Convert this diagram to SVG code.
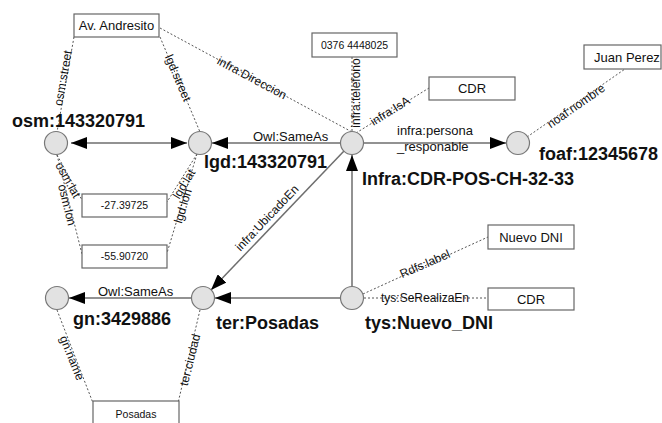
<svg xmlns="http://www.w3.org/2000/svg" width="662" height="423" viewBox="0 0 662 423">
<style>
text{font-family:"Liberation Sans",Arial,sans-serif;fill:#111}
.node{fill:#e2e2e2;stroke:#777;stroke-width:1.2}
.box{fill:#fff;stroke:#666;stroke-width:1.2}
.solid{stroke:#6e6e6e;stroke-width:1.5;fill:none}
.dot{stroke:#555;stroke-width:1;stroke-dasharray:2,2;fill:none}
.big{font-size:18px;font-weight:bold}
.lbl{font-size:13px}
.el{font-size:12px;text-anchor:middle}
.bt{font-size:13px;text-anchor:middle}
.bs{font-size:10.5px;text-anchor:middle}
</style>
<defs>
<marker id="arr" markerUnits="userSpaceOnUse" markerWidth="16" markerHeight="12" refX="16" refY="6" orient="auto-start-reverse">
<path d="M0,0 L16,6 L0,12 z" fill="#000"/>
</marker>
</defs>
<g id="connectors">
<line class="solid" x1="71" y1="143" x2="187" y2="143" marker-start="url(#arr)" marker-end="url(#arr)"/>
<line class="solid" x1="340" y1="143" x2="212" y2="143" marker-end="url(#arr)"/>
<line class="solid" x1="364" y1="143" x2="506" y2="143" marker-end="url(#arr)"/>
<line class="solid" x1="352" y1="287" x2="352" y2="155" marker-end="url(#arr)"/>
<line class="solid" x1="344" y1="151" x2="211" y2="290" marker-end="url(#arr)"/>
<line class="solid" x1="340" y1="298" x2="215" y2="298" marker-end="url(#arr)"/>
<line class="solid" x1="191" y1="298" x2="69" y2="298" marker-end="url(#arr)"/>
<line class="dot" x1="74" y1="37" x2="57" y2="132"/>
<line class="dot" x1="160" y1="37" x2="200" y2="132"/>
<line class="dot" x1="160" y1="28" x2="352" y2="132"/>
<line class="dot" x1="352" y1="57" x2="352" y2="132"/>
<line class="dot" x1="356" y1="133" x2="429" y2="88"/>
<line class="dot" x1="527" y1="137" x2="625" y2="69"/>
<line class="dot" x1="57" y1="155" x2="82" y2="200"/>
<line class="dot" x1="57" y1="155" x2="82" y2="254"/>
<line class="dot" x1="197" y1="154" x2="167" y2="202"/>
<line class="dot" x1="197" y1="154" x2="167" y2="253"/>
<line class="dot" x1="363" y1="294" x2="488" y2="237"/>
<line class="dot" x1="364" y1="298" x2="488" y2="298"/>
<line class="dot" x1="57" y1="310" x2="93" y2="403"/>
<line class="dot" x1="200" y1="310" x2="178" y2="403"/>
<text class="lbl" x="253" y="141">Owl:SameAs</text>
<text class="lbl" x="397" y="135">infra:persona</text>
<text class="lbl" x="397" y="151">_responable</text>
<text class="lbl" x="98" y="296">Owl:SameAs</text>
<text class="el" transform="translate(63,78) rotate(-80)" dy="4">osm:street</text>
<text class="el" transform="translate(178,78) rotate(67)" dy="4">lgd:street</text>
<text class="el" transform="translate(252,78) rotate(28)" dy="4">infra:Direccion</text>
<text class="el" transform="translate(356,93) rotate(-90)" dy="4">infra:telefono</text>
<text class="el" transform="translate(390,111) rotate(-32)" dy="4">infra:IsA</text>
<text class="el" transform="translate(576,106) rotate(-35)" dy="4">noaf:nombre</text>
<text class="el" transform="translate(68,180) rotate(61)" dy="4">osm:lat</text>
<text class="el" transform="translate(67,205) rotate(76)" dy="4">osm:lon</text>
<text class="el" transform="translate(184,184) rotate(-59)" dy="4">lgd:lat</text>
<text class="el" transform="translate(183,206) rotate(-73)" dy="4">lgd:lon</text>
<text class="el" transform="translate(267,218) rotate(-46.5)" dy="4">infra:UbicadoEn</text>
<text class="el" transform="translate(425,264) rotate(-23.5)" dy="4">Rdfs:label</text>
<text class="el" x="425" y="302">tys:SeRealizaEn</text>
<text class="el" transform="translate(72,358) rotate(68)" dy="4">gn:name</text>
<text class="el" transform="translate(190,360) rotate(-76)" dy="4">ter:ciudad</text>
</g>
<g id="osm"><circle class="node" cx="56" cy="143" r="11.5"/><text class="big" x="12" y="127">osm:143320791</text></g>
<g id="lgd"><circle class="node" cx="200" cy="143" r="11.5"/><text class="big" x="204" y="168">lgd:143320791</text></g>
<g id="infra"><circle class="node" cx="352" cy="143" r="11.5"/><text class="big" x="362" y="185">Infra:CDR-POS-CH-32-33</text></g>
<g id="foaf"><circle class="node" cx="518" cy="143" r="11.5"/><text class="big" x="539" y="160">foaf:12345678</text></g>
<g id="gn"><circle class="node" cx="57" cy="298" r="11.5"/><text class="big" x="73" y="325">gn:3429886</text></g>
<g id="ter"><circle class="node" cx="203" cy="298" r="11.5"/><text class="big" x="216" y="329">ter:Posadas</text></g>
<g id="tys"><circle class="node" cx="352" cy="298" r="11.5"/><text class="big" x="365" y="329">tys:Nuevo_DNI</text></g>
<g id="andresito"><rect class="box" x="74" y="14" width="85" height="23"/><text class="bt" x="116.5" y="30">Av. Andresito</text></g>
<g id="telefono"><rect class="box" x="312" y="33" width="85" height="24"/><text class="bs" x="354.5" y="49">0376 4448025</text></g>
<g id="cdr1"><rect class="box" x="429" y="77" width="86" height="23"/><text class="bt" x="472" y="93">CDR</text></g>
<g id="juan"><rect class="box" x="584" y="45" width="77" height="24"/><text class="bt" x="627" y="62">Juan Perez</text></g>
<g id="lat"><rect class="box" x="82" y="194" width="85" height="23"/><text class="bs" x="124.5" y="209">-27.39725</text></g>
<g id="lon"><rect class="box" x="82" y="245" width="85" height="23"/><text class="bs" x="124.5" y="260">-55.90720</text></g>
<g id="nuevodni"><rect class="box" x="488" y="225" width="86" height="24"/><text class="bt" x="531" y="242">Nuevo DNI</text></g>
<g id="cdr2"><rect class="box" x="488" y="288" width="86" height="22"/><text class="bt" x="531" y="304">CDR</text></g>
<g id="posadas"><rect class="box" x="93" y="401" width="86" height="30"/><text class="bs" x="136" y="418">Posadas</text></g>
</svg>
